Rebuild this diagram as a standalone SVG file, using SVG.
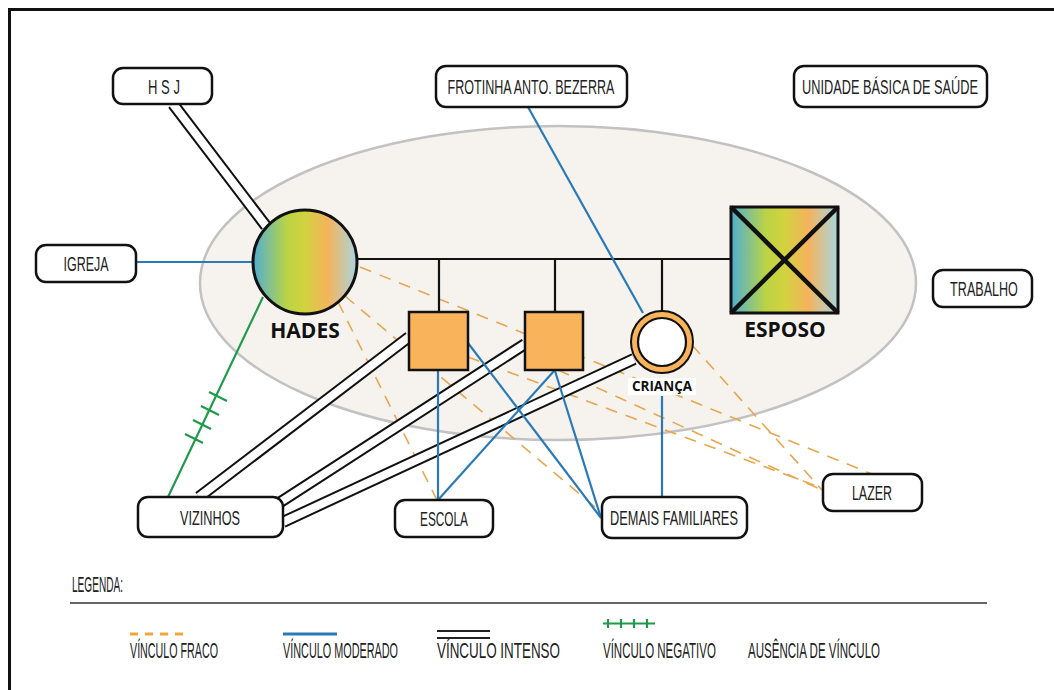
<svg xmlns="http://www.w3.org/2000/svg" width="1054" height="690" viewBox="0 0 1054 690">
<defs>
<linearGradient id="rb" x1="0" y1="0" x2="1" y2="0">
<stop offset="0" stop-color="#4eaed3"/>
<stop offset="0.33" stop-color="#bcd443"/>
<stop offset="0.5" stop-color="#d2d23f"/>
<stop offset="0.72" stop-color="#f5b35c"/>
<stop offset="1" stop-color="#a9d5df"/>
</linearGradient>
<style>
.box{fill:#fff;stroke:#111;stroke-width:2.5}
.lbl{font-family:"Liberation Sans",Arial,sans-serif;font-size:21px;fill:#222;text-anchor:middle}
.leg{font-family:"Liberation Sans",Arial,sans-serif;font-size:22px;fill:#222;text-anchor:start}
.name{font-family:"Open Sans","Noto Sans",sans-serif;font-weight:bold;fill:#111;text-anchor:middle}
.weak{stroke:#e8a64e;stroke-width:1.6;stroke-dasharray:12 9;fill:none}
.mod{stroke:#2a7ab8;stroke-width:2.2;fill:none}
.intO{stroke:#111;stroke-width:12;fill:none}
.intI{stroke:#fff;stroke-width:8;fill:none}
.neg{stroke:#1f9a4b;stroke-width:2.2;fill:none}
.fam{stroke:#111;stroke-width:2.2;fill:none}
</style>
</defs>
<rect width="1054" height="690" fill="#fff"/>
<path d="M9.5 690 V9.5 H1054" fill="none" stroke="#111" stroke-width="3"/>
<ellipse cx="558" cy="283" rx="358" ry="157" fill="#f6f3ef" stroke="#c2c2c2" stroke-width="2.5"/>
<g id="connectors">
<line class="weak" x1="360" y1="267" x2="872" y2="474"/>
<line class="weak" x1="345" y1="296" x2="602" y2="513"/>
<line class="weak" x1="338" y1="302" x2="437" y2="500"/>
<line class="weak" x1="692" y1="345" x2="822" y2="490"/>
<line class="weak" x1="468" y1="357" x2="822" y2="488"/>
<line class="weak" x1="558" y1="370" x2="822" y2="490"/>
<line class="fam" x1="357" y1="259" x2="731" y2="259"/>
<line class="fam" x1="439" y1="259" x2="439" y2="312"/>
<line class="fam" x1="555" y1="259" x2="555" y2="312"/>
<line class="fam" x1="662" y1="259" x2="662" y2="311"/>
<path class="intO" d="M173 104 L266 226 M199 497 L409 337 M279 503 L525 344 M283 522 L634 359"/>
<path class="intI" d="M173 104 L266 226 M199 497 L409 337 M279 503 L525 344 M283 522 L634 359"/>
<line class="mod" x1="136" y1="262" x2="253" y2="262"/>
<line class="mod" x1="528" y1="107" x2="643" y2="313"/>
<line class="mod" x1="438" y1="370" x2="438" y2="500"/>
<line class="mod" x1="554" y1="371" x2="438" y2="500"/>
<line class="mod" x1="468" y1="343" x2="601" y2="518"/>
<line class="mod" x1="555" y1="371" x2="601" y2="518"/>
<line class="mod" x1="662" y1="396" x2="662" y2="498"/>
<line class="neg" x1="263" y1="297" x2="168" y2="497"/>
<path class="neg" d="M209 392 L227 401 M201 406 L219 415 M193 420 L211 429 M185 434 L203 443"/>
</g>
<g id="hades">
<circle cx="305" cy="262" r="52" fill="url(#rb)" stroke="#111" stroke-width="3"/>
<text class="name" x="305" y="338" font-size="21">HADES</text>
</g>
<g id="esposo">
<rect x="731" y="207" width="107" height="106" fill="url(#rb)" stroke="#111" stroke-width="3"/>
<path d="M731 207 L838 313 M838 207 L731 313" stroke="#111" stroke-width="4.5"/>
<text class="name" x="785" y="337" font-size="21">ESPOSO</text>
</g>
<g id="filho1"><rect x="409" y="312" width="59" height="58" fill="#f9b35a" stroke="#111" stroke-width="2.5"/></g>
<g id="filho2"><rect x="525" y="312" width="58" height="58" fill="#f9b35a" stroke="#111" stroke-width="2.5"/></g>
<g id="crianca">
<circle cx="662" cy="342" r="31" fill="#f9b35a" stroke="#111" stroke-width="2"/>
<circle cx="662" cy="342" r="24" fill="#fff" stroke="#111" stroke-width="2.2"/>
<rect x="628" y="378" width="68" height="17" fill="#fff"/>
<text class="name" x="662" y="391" font-size="13.5">CRIANÇA</text>
</g>
<g id="hsj"><rect class="box" x="113" y="68" width="99" height="36" rx="10"/><text class="lbl" transform="translate(164 94) scale(0.6 1)" textLength="53" lengthAdjust="spacingAndGlyphs">H S J</text></g>
<g id="frotinha"><rect class="box" x="436" y="66" width="191" height="41" rx="10"/><text class="lbl" transform="translate(531 94) scale(0.6 1)" textLength="278" lengthAdjust="spacingAndGlyphs">FROTINHA ANTO. BEZERRA</text></g>
<g id="ubs"><rect class="box" x="794" y="66" width="193" height="41" rx="10"/><text class="lbl" transform="translate(890 94) scale(0.6 1)" textLength="293" lengthAdjust="spacingAndGlyphs">UNIDADE BÁSICA DE SAÚDE</text></g>
<g id="trabalho"><rect class="box" x="933" y="270" width="99" height="37" rx="10"/><text class="lbl" transform="translate(984 296) scale(0.6 1)" textLength="113" lengthAdjust="spacingAndGlyphs">TRABALHO</text></g>
<g id="igreja"><rect class="box" x="36" y="245" width="100" height="37" rx="10"/><text class="lbl" transform="translate(86 271) scale(0.6 1)" textLength="75" lengthAdjust="spacingAndGlyphs">IGREJA</text></g>
<g id="vizinhos"><rect class="box" x="138" y="497" width="145" height="40" rx="10"/><text class="lbl" transform="translate(210 525) scale(0.6 1)" textLength="100" lengthAdjust="spacingAndGlyphs">VIZINHOS</text></g>
<g id="escola"><rect class="box" x="395" y="500" width="98" height="37" rx="10"/><text class="lbl" transform="translate(444 526) scale(0.6 1)" textLength="80" lengthAdjust="spacingAndGlyphs">ESCOLA</text></g>
<g id="demais"><rect class="box" x="602" y="497" width="145" height="41" rx="10"/><text class="lbl" transform="translate(674 525) scale(0.6 1)" textLength="213" lengthAdjust="spacingAndGlyphs">DEMAIS FAMILIARES</text></g>
<g id="lazer"><rect class="box" x="823" y="474" width="99" height="37" rx="10"/><text class="lbl" transform="translate(872 500) scale(0.6 1)" textLength="67" lengthAdjust="spacingAndGlyphs">LAZER</text></g>
<g id="legenda">
<text class="leg" transform="translate(72 592) scale(0.63 1)" font-size="16" textLength="81" lengthAdjust="spacingAndGlyphs">LEGENDA:</text>
<line x1="70" y1="603" x2="987" y2="603" stroke="#333" stroke-width="1.5"/>
<line x1="130" y1="634" x2="183" y2="634" stroke="#eea83a" stroke-width="3" stroke-dasharray="8 7"/>
<line x1="283" y1="634" x2="337" y2="634" stroke="#2a7ab8" stroke-width="3"/>
<path d="M437 631 H490 M437 638 H490" stroke="#222" stroke-width="2"/>
<path d="M603 623.5 H655 M608 619 V628 M621 619 V628 M634 619 V628 M647 619 V628" stroke="#1f9a4b" stroke-width="2.2"/>
<text class="leg" transform="translate(130 658) scale(0.5 1)" textLength="176" lengthAdjust="spacingAndGlyphs">VÍNCULO FRACO</text>
<text class="leg" transform="translate(283 658) scale(0.5 1)" textLength="230" lengthAdjust="spacingAndGlyphs">VÍNCULO MODERADO</text>
<text class="leg" transform="translate(437 658) scale(0.6 1)" textLength="205" lengthAdjust="spacingAndGlyphs">VÍNCULO INTENSO</text>
<text class="leg" transform="translate(603 658) scale(0.52 1)" textLength="217" lengthAdjust="spacingAndGlyphs">VÍNCULO NEGATIVO</text>
<text class="leg" transform="translate(748 658) scale(0.52 1)" textLength="254" lengthAdjust="spacingAndGlyphs">AUSÊNCIA DE VÍNCULO</text>
</g>
</svg>
